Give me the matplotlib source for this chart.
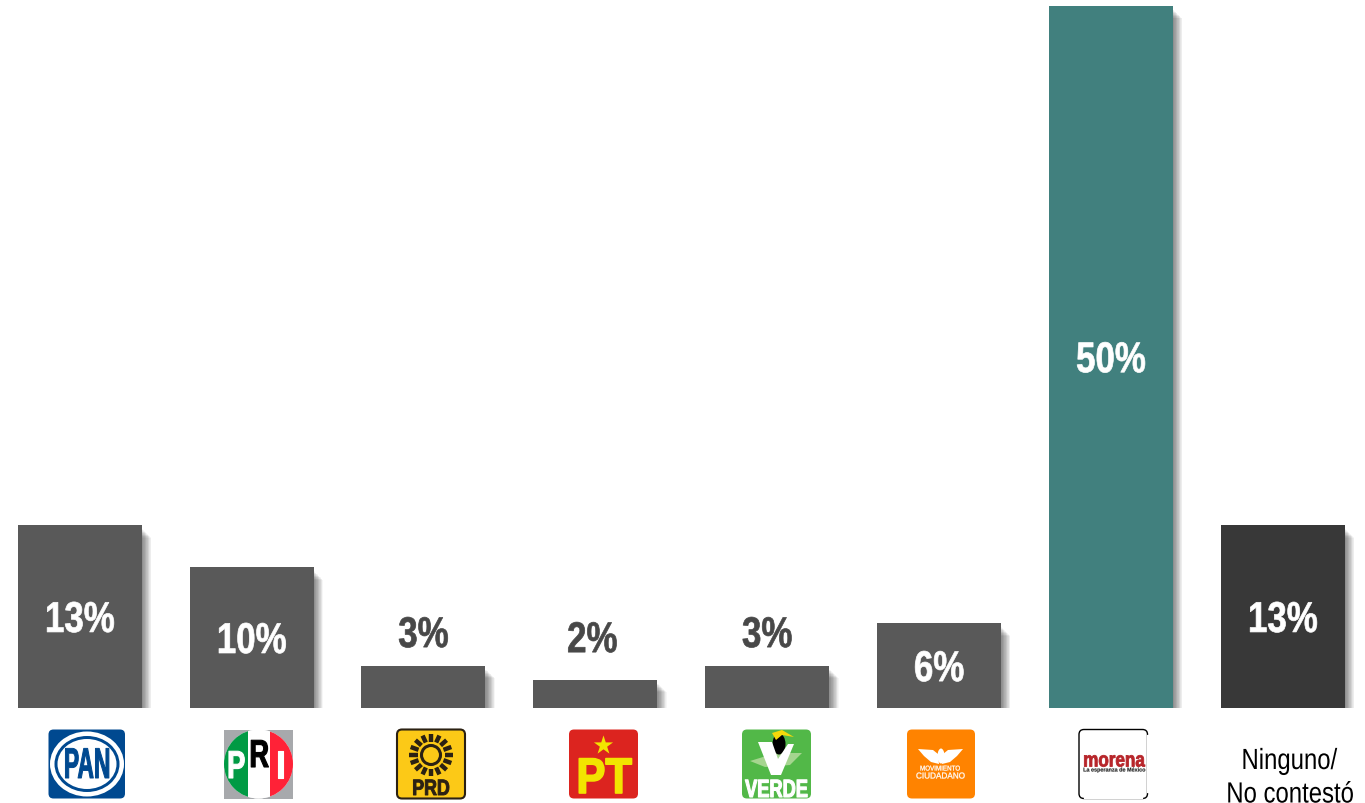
import numpy as np
import matplotlib
matplotlib.use("Agg")
import matplotlib.pyplot as plt
import matplotlib.patheffects as pe
from matplotlib.patches import FancyBboxPatch, Circle, Ellipse, Polygon, Rectangle
from matplotlib.transforms import Affine2D

# data
parties = ["PAN", "PRI", "PRD", "PT", "VERDE", "MC", "morena", "Ninguno"]
values = [13, 10, 3, 2, 3, 6, 50, 13]
labels = ["13%", "10%", "3%", "2%", "3%", "6%", "50%", "13%"]

# layout and styles
bar_colors = ["#595959"] * 6 + ["#41807E", "#383838"]
inside = [True, True, False, False, False, True, True, True]
outside_gap = [0, 0, 34, 43, 34, 0, 0, 0]
label_dx = [0, 0, 0, -3, 0, 0, 0, 0]

W, H = 1365, 804
SANS = "Liberation Sans"
STEP = 171.86
FIRST = 79.7


class Squeeze(pe.AbstractPathEffect):
    # no narrow font installed, so squeeze the glyphs around their middle
    def __init__(self, sx, stroke=0.0):
        super().__init__()
        self.sx = sx
        self.stroke = stroke

    def draw_path(self, renderer, gc, tpath, affine, rgbFace=None):
        ext = tpath.get_extents(affine)
        cx = (ext.x0 + ext.x1) / 2
        squeeze = Affine2D().translate(-cx, 0).scale(self.sx, 1).translate(cx, 0)
        gc0 = renderer.new_gc()
        gc0.copy_properties(gc)
        gc0.set_linewidth(self.stroke)
        gc0.set_foreground(rgbFace)
        renderer.draw_path(gc0, tpath, affine + squeeze, rgbFace)
        gc0.restore()


fig = plt.figure(figsize=(W / 100, H / 100), dpi=100)
fig.patch.set_facecolor("white")

# bars, baseline at y=708px and 50% at y=6px
ax = fig.add_axes([0, (H - 708.7) / H, 1, 702 / H])
ax.set_xlim(-FIRST / STEP, (W - FIRST) / STEP)
ax.set_ylim(0, 50)
ax.axis("off")

shadow = []
for k in np.arange(1, 10, 0.6):
    shadow.append(pe.SimplePatchShadow(offset=(k * 0.72, -(k + 3) * 0.72), shadow_rgbFace="#000000", alpha=0.034))
shadow.append(pe.Normal())

bars = ax.bar(range(len(values)), values, width=124 / STEP, color=bar_colors, linewidth=0)
for b in bars:
    b.set_path_effects(shadow)

for i, (v, lab) in enumerate(zip(values, labels)):
    if inside[i]:
        anchor, gap, col = v / 2, -4.5, "white"
    else:
        anchor, gap, col = v, outside_gap[i] - 4.5, "#484848"
    ax.annotate(lab, (i, anchor), xytext=(label_dx[i] * 0.72, gap * 0.72), textcoords="offset points",
                color=col, ha="center", va="center", family=SANS, weight="bold",
                fontsize=31, zorder=5, path_effects=[Squeeze(0.81, 0.5)])

# logos, drawn in pixel coordinates
lg = fig.add_axes([0, 0, 1, 1], facecolor="none")
lg.set_xlim(0, W)
lg.set_ylim(H, 0)
lg.axis("off")


def box(x0, x1, color, edge="none", lw=0):
    p = FancyBboxPatch((x0 + 4, 734.5), x1 - x0 - 8, 61, boxstyle="round,pad=4,rounding_size=5",
                       fc=color, ec=edge, lw=lw)
    lg.add_patch(p)
    return p


def logo_text(x, y, s, color, size, sx=1.0, weight="bold", stroke=0.4):
    lg.text(x, y, s, color=color, fontsize=size, weight=weight, family=SANS,
            ha="center", va="center_baseline", path_effects=[Squeeze(sx, stroke)])


# PAN
box(48.5, 125, "#004990")
lg.add_patch(Ellipse((87, 765), 74, 65, fc="white", ec="none"))
lg.add_patch(Ellipse((87, 765), 65, 56, fc="#004990", ec="none"))
lg.add_patch(Ellipse((87, 765), 59, 50, fc="white", ec="none"))
logo_text(87, 763.5, "PAN", "#004990", 31, sx=0.53, stroke=0.7)

# PRI
lg.add_patch(Rectangle((224, 730.5), 69, 69, fc="#A7A9AC", ec="none"))
circ = Circle((258.5, 765), 34.5, fc="white", ec="none")
lg.add_patch(circ)
g = Rectangle((224, 730.5), 24, 69, fc="#009A44", ec="none")
m = Rectangle((248, 730.5), 21.5, 69, fc="white", ec="none")
r = Rectangle((269.5, 730.5), 24, 69, fc="#FF2237", ec="none")
for p in (g, m, r):
    lg.add_patch(p)
    p.set_clip_path(circ)
logo_text(236, 765, "P", "white", 28, sx=0.7, stroke=0.8)
logo_text(259, 754, "R", "black", 28, sx=0.7, stroke=0.8)
logo_text(280.5, 765, "I", "white", 28, sx=0.9, stroke=0.8)

# PRD
box(397, 465, "#FCC917", edge="#2B2113", lw=1.5)
for a in np.arange(0, 360, 22.5):
    c, s = np.cos(np.radians(a)), np.sin(np.radians(a))
    lg.plot([431 + 13.5 * c, 431 + 22 * c], [756 + 13.5 * s, 756 + 21 * s],
            color="#2B2113", lw=3.2, solid_capstyle="butt")
lg.add_patch(Circle((431, 756), 9.5, fc="#FCC917", ec="#2B2113", lw=2.2))
logo_text(431, 788, "PRD", "#2B2113", 16, sx=0.8, stroke=0.7)

# PT
box(569, 638, "#DC241F")
lg.scatter([603], [745.5], marker="*", s=210, color="#F2E500", linewidths=0)
logo_text(604, 776, "PT", "#F2E500", 36, sx=0.87, stroke=1.2)

# VERDE
box(742, 811, "#52B848")
lg.add_patch(Polygon([[750, 762], [776, 754], [802, 754], [790, 766], [765, 768]],
                     closed=True, fc="#A5D58F", ec="none"))
lg.add_patch(Ellipse((779, 745), 13, 21, fc="black", ec="none"))
lg.add_patch(Polygon([[772, 734], [782, 731], [794, 738], [782, 736], [776, 741]],
                     closed=True, fc="#F5D90A", ec="none"))
lg.add_patch(Polygon([[758, 743], [772, 743], [778, 760], [788, 745], [794, 745], [781, 776], [771, 776]],
                     closed=True, fc="white", ec="none"))
logo_text(776.5, 788.5, "VERDE", "white", 18, sx=0.73, stroke=0.8)

# Movimiento Ciudadano
box(907, 975, "#FF8300")
lg.add_patch(Polygon([[918, 750], [933, 751], [938, 755], [939, 765], [931, 763], [924, 757]],
                     closed=True, fc="white", ec="none"))
lg.add_patch(Polygon([[963, 750], [948, 751], [943, 755], [942, 765], [950, 763], [957, 757]],
                     closed=True, fc="white", ec="none"))
lg.add_patch(Ellipse((941, 757), 7, 15, fc="white", ec="none"))
logo_text(940.5, 769, "MOVIMIENTO", "white", 5, sx=0.9, weight="normal", stroke=0.2)
logo_text(940.5, 776, "CIUDADANO", "white", 6.2, sx=0.95, weight="normal", stroke=0.2)

# morena
box(1079, 1147.5, "white", edge="black", lw=1)
lg.plot([1085, 1141.5], [799, 799], color="white", lw=1.6)
lg.plot([1147.5, 1147.5], [736.5, 792.5], color="white", lw=1.6)
logo_text(1114, 760, "morena", "#B7252A", 15, sx=0.82, stroke=0.6)
logo_text(1114, 770.5, "La esperanza de México", "#222222", 4, sx=0.98, stroke=0.1)

# last category is plain text
lg.text(1289, 759, "Ninguno/", color="black", fontsize=21, family=SANS, ha="center",
        va="center_baseline", path_effects=[Squeeze(0.82)])
lg.text(1290, 792.5, "No contestó", color="black", fontsize=21, family=SANS, ha="center",
        va="center_baseline", path_effects=[Squeeze(0.82)])

fig.savefig("out.png", dpi=100)
